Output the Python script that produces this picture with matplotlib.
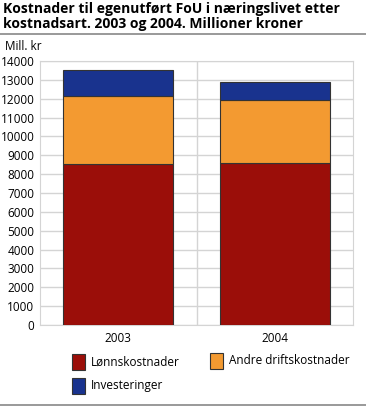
import matplotlib
matplotlib.use("Agg")
import matplotlib.pyplot as plt
from matplotlib.patches import Rectangle
from matplotlib.lines import Line2D
import numpy as np

plt.rcParams['font.family'] = ['Open Sans', 'DejaVu Sans']

# Données
aar = ['2003', '2004']
lonn = [8540, 8590]
andre = [3620, 3320]
invest = [1360, 970]
serier = ['Lønnskostnader', 'Andre driftskostnader', 'Investeringer']
farger = ['#9b0e09', '#f39a31', '#19338e']

fig = plt.figure(figsize=(3.66, 4.07), dpi=100)
W, H = 366, 407
ax = fig.add_axes([40 / W, 1 - 325 / H, (353 - 40) / W, (325 - 61) / H])

x = np.arange(len(aar))
bunn = np.zeros(len(aar))
for verdier, farge in zip([lonn, andre, invest], farger):
    ax.bar(x, verdier, width=0.7, bottom=bunn, color=farge,
           edgecolor='#333333', linewidth=0.8, zorder=3)
    bunn += np.array(verdier)

ax.set_xlim(-0.5, 1.5)
ax.set_ylim(0, 14000)
ax.set_yticks(np.arange(0, 14001, 1000))
ax.set_xticks(x)
ax.set_xticklabels(aar)
ax.grid(axis='y', color='#d4d4d4', linewidth=1, zorder=0)
ax.axvline(0.5, color='#d4d4d4', linewidth=1, zorder=0)
for s in ['top', 'right', 'bottom', 'left']:
    ax.spines[s].set_color('#d4d4d4')
ax.tick_params(axis='both', labelsize=8.5, colors='#d4d4d4', labelcolor='black', length=0)
ax.tick_params(axis='y', pad=4)
ax.tick_params(axis='x', pad=5)

# Tittel
fig.text(3 / W, 1 - 2 / H, 'Kostnader til egenutført FoU i næringslivet etter\nkostnadsart. 2003 og 2004. Millioner kroner',
         fontsize=10, fontweight='bold', va='top', ha='left', linespacing=1.1)
fig.add_artist(Line2D([0, 1], [1 - 34 / H, 1 - 34 / H], color='#888888', linewidth=1.2))
fig.add_artist(Line2D([0, 1], [1 - 405 / H, 1 - 405 / H], color='#888888', linewidth=1.2))
fig.text(5 / W, 1 - 46 / H, 'Mill. kr', fontsize=8.5, va='center', ha='left')

# Legende
pos = [(72, 362), (210, 361), (72, 386)]
for (px, py), navn, farge in zip(pos, serier, farger):
    fig.add_artist(Rectangle((px / W, 1 - (py + 8) / H), 13 / W, 16 / H,
                             facecolor=farge, edgecolor='#333333', linewidth=0.8))
    fig.text((px + 19) / W, 1 - py / H, navn, fontsize=8.5, va='center', ha='left')

fig.savefig('out.png', dpi=100)
